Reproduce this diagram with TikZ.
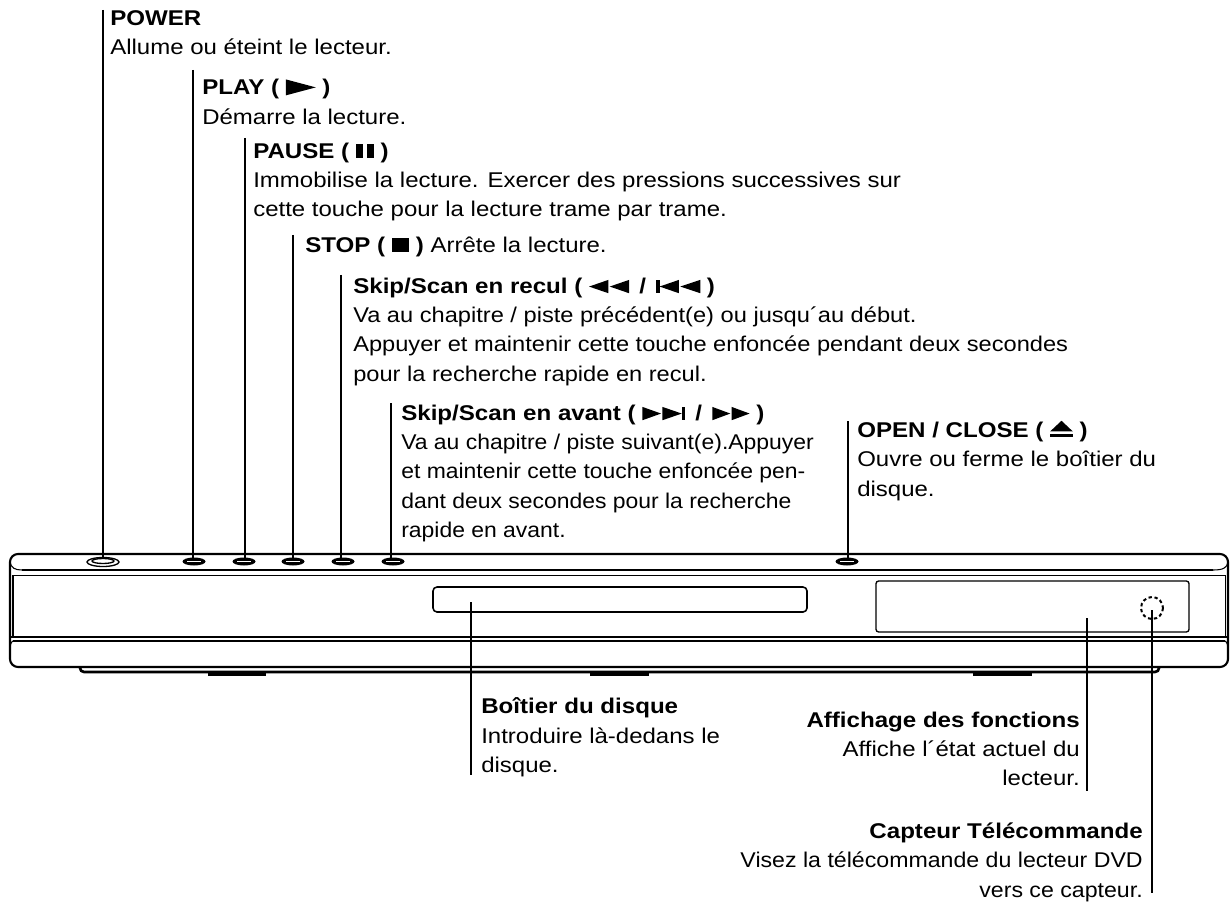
\documentclass[tikz,border=0pt]{standalone}
\usepackage{fontspec}
\setmainfont{Liberation Sans}[FakeStretch=1.125,BoldFeatures={FakeStretch=1.13}]
\newfontfamily\fontback{Liberation Sans}[FakeStretch=1.108,BoldFeatures={FakeStretch=1.13}]
\newfontfamily\fontnext{Liberation Sans}[FakeStretch=1.075,BoldFeatures={FakeStretch=1.13}]
\newfontfamily\fonteye{Liberation Sans}[FakeStretch=1.085,BoldFeatures={FakeStretch=1.13}]
\newcommand{\iconplay}{\tikz[x=1pt,y=1pt,baseline=0pt]\fill (0,-0.5)--(22.5,5.5)--(0,11.5)--cycle;}
\newcommand{\iconpause}{\tikz[x=1pt,y=1pt,baseline=0pt]{\fill (0,0) rectangle (5.5,11); \fill (8,0) rectangle (13.5,11);}}
\newcommand{\iconstop}{\tikz[x=1pt,y=1pt,baseline=0pt]\fill (0,0) rectangle (13,11);}
\newcommand{\iconback}{\tikz[x=1pt,y=1pt,baseline=0pt]{\fill (14.5,0)--(0,5)--(14.5,10)--cycle; \fill (30,0)--(15.5,5)--(30,10)--cycle;}}
\newcommand{\iconprev}{\tikz[x=1pt,y=1pt,baseline=0pt]{\fill (0,0) rectangle (2.5,10); \fill (17,0)--(2.5,5)--(17,10)--cycle; \fill (33,0)--(18,5)--(33,10)--cycle;}}
\newcommand{\iconnext}{\tikz[x=1pt,y=1pt,baseline=0pt]{\fill (0,0)--(14,5)--(0,10)--cycle; \fill (15,0)--(29.5,5)--(15,10)--cycle; \fill (29.5,0) rectangle (32,10);}}
\newcommand{\iconfwd}{\tikz[x=1pt,y=1pt,baseline=0pt]{\fill (0,0)--(13.5,5)--(0,10)--cycle; \fill (14.5,0)--(28,5)--(14.5,10)--cycle;}}
\newcommand{\iconeject}{\tikz[x=1pt,y=1pt,baseline=0pt]{\fill (0,0) rectangle (17,2.5); \fill (0,4.5)--(8.5,12.5)--(17,4.5)--cycle;}}

\begin{document}
\begin{tikzpicture}[x=0.75pt,y=-0.75pt,
  leader/.style={line width=0.9pt},
  body/.style={line width=1.2pt,line join=round},
  note/.style={inner sep=0pt,anchor=north west,align=left,font=\fontsize{16}{22}\selectfont},
  noter/.style={inner sep=0pt,anchor=north east,align=right,font=\fontsize{16}{22}\selectfont}]
\useasboundingbox (0,0) rectangle (1231,905);

% player
\draw[line width=1.6pt,rounded corners=6pt] (10,554) -- (1228,554) -- (1228,667) -- (10,667) -- cycle;
\draw[body] (22,570) -- (1213,570);
\draw[line width=0.7pt] (13,575) -- (1225,575);
\draw[line width=1.8pt] (13,575) -- (13,637);
\draw[line width=0.7pt] (1225,575) -- (1225,637);
\draw[line width=1.6pt] (10,637) -- (1228,637);
\draw[line width=1.2pt] (13,641) -- (1225,641);
\draw[line width=0.8pt] (10,562) .. controls (11,568) and (15,570) .. (22,570);
\draw[line width=0.8pt] (1228,562) .. controls (1227,568) and (1223,570) .. (1213,570);
\draw[line width=0.8pt] (13,641) .. controls (11,642) and (10,645) .. (10,650);
\draw[line width=0.8pt] (1225,641) .. controls (1227,642) and (1228,645) .. (1228,650);
\draw[line width=2pt,rounded corners=3pt] (80,667) -- (80,672) -- (1159,672) -- (1159,667);
\fill (208,672) rectangle (266,675.5);
\fill (590,672) rectangle (649,675.5);
\fill (973,672) rectangle (1032,675.5);
\draw[body,rounded corners=3pt] (433,587) rectangle (807,612);
\draw[line width=1pt,rounded corners=2pt] (876,581) rectangle (1189,632);
\draw[line width=1.5pt,dash pattern=on 2.5pt off 2pt] (1152,608) circle (11);

% buttons
\draw[line width=1pt] (103,562) ellipse (16 and 4.5);
\draw[line width=1pt] (103,561) ellipse (11 and 2.5);
\foreach \x in {194,244,293,343,393,847} \fill (\x,561.5) ellipse (11.5 and 4);
\foreach \x in {194,244,293,343,393,847} \draw[white,line width=0.5pt] (\x-7,561.5) -- (\x+7,561.5);

% leaders
\coordinate (PowerA) at (103,10); \coordinate (PowerB) at (103,559);
\coordinate (PlayA) at (193,70); \coordinate (PlayB) at (193,559);
\coordinate (PauseA) at (245,138); \coordinate (PauseB) at (245,559);
\coordinate (StopA) at (293,235); \coordinate (StopB) at (293,559);
\coordinate (BackA) at (341,275); \coordinate (BackB) at (341,559);
\coordinate (NextA) at (391,403); \coordinate (NextB) at (391,559);
\coordinate (OpenA) at (848,421); \coordinate (OpenB) at (848,559);
\coordinate (TrayA) at (471,602); \coordinate (TrayB) at (471,775);
\coordinate (ShowA) at (1087,618); \coordinate (ShowB) at (1087,791);
\coordinate (EyeA) at (1152,610); \coordinate (EyeB) at (1152,893);
\draw[leader] (PowerA)--(PowerB);
\draw[leader] (PlayA)--(PlayB);
\draw[leader] (PauseA)--(PauseB);
\draw[leader] (StopA)--(StopB);
\draw[leader] (BackA)--(BackB);
\draw[leader] (NextA)--(NextB);
\draw[leader] (OpenA)--(OpenB);
\draw[leader] (TrayA)--(TrayB);
\draw[leader] (ShowA)--(ShowB);
\draw[leader] (EyeA)--(EyeB);

% texts
\node[note] (power) at (110,10.5) {\textbf{POWER}\\Allume ou éteint le lecteur.};
\node[note] (play) at (202,79) {\textbf{PLAY ( \iconplay{} )}\\Démarre la lecture.};
\node[note] (pause) at (253,142.5) {\textbf{PAUSE ( \iconpause{} )}\\Immobilise la lecture. Exercer des pressions successives sur\\cette touche pour la lecture trame par trame.};
\node[note] (stop) at (305,236.5) {\textbf{STOP ( \iconstop{} )} Arrête la lecture.};
\node[note,font=\fontsize{16}{22}\fontback\selectfont] (back) at (353,277.5) {\textbf{Skip/Scan en recul ( \iconback{}\, / \,\iconprev{} )}\\Va au chapitre / piste précédent(e) ou jusqu´au début.\\Appuyer et maintenir cette touche enfoncée pendant deux secondes\\pour la recherche rapide en recul.};
\node[note,font=\fontsize{16}{22}\fontnext\selectfont] (next) at (401,404.5) {\textbf{Skip/Scan en avant ( \iconnext{}\, / \,\iconfwd{} )}\\Va au chapitre / piste suivant(e).Appuyer\\et maintenir cette touche enfoncée pen-\\dant deux secondes pour la recherche\\rapide en avant.};
\node[note] (open) at (857,420.5) {\textbf{OPEN / CLOSE ( \iconeject{} )}\\Ouvre ou ferme le boîtier du\\disque.};
\node[note] (tray) at (481,697.5) {\textbf{Boîtier du disque}\\Introduire là-dedans le\\disque.};
\node[noter] (show) at (1080,711.5) {\textbf{Affichage des fonctions}\\Affiche l´état actuel du\\lecteur.};
\node[noter,font=\fontsize{16}{22}\fonteye\selectfont] (eye) at (1143,822.5) {\textbf{Capteur Télécommande}\\Visez la télécommande du lecteur DVD\\vers ce capteur.};
\end{tikzpicture}
\end{document}
